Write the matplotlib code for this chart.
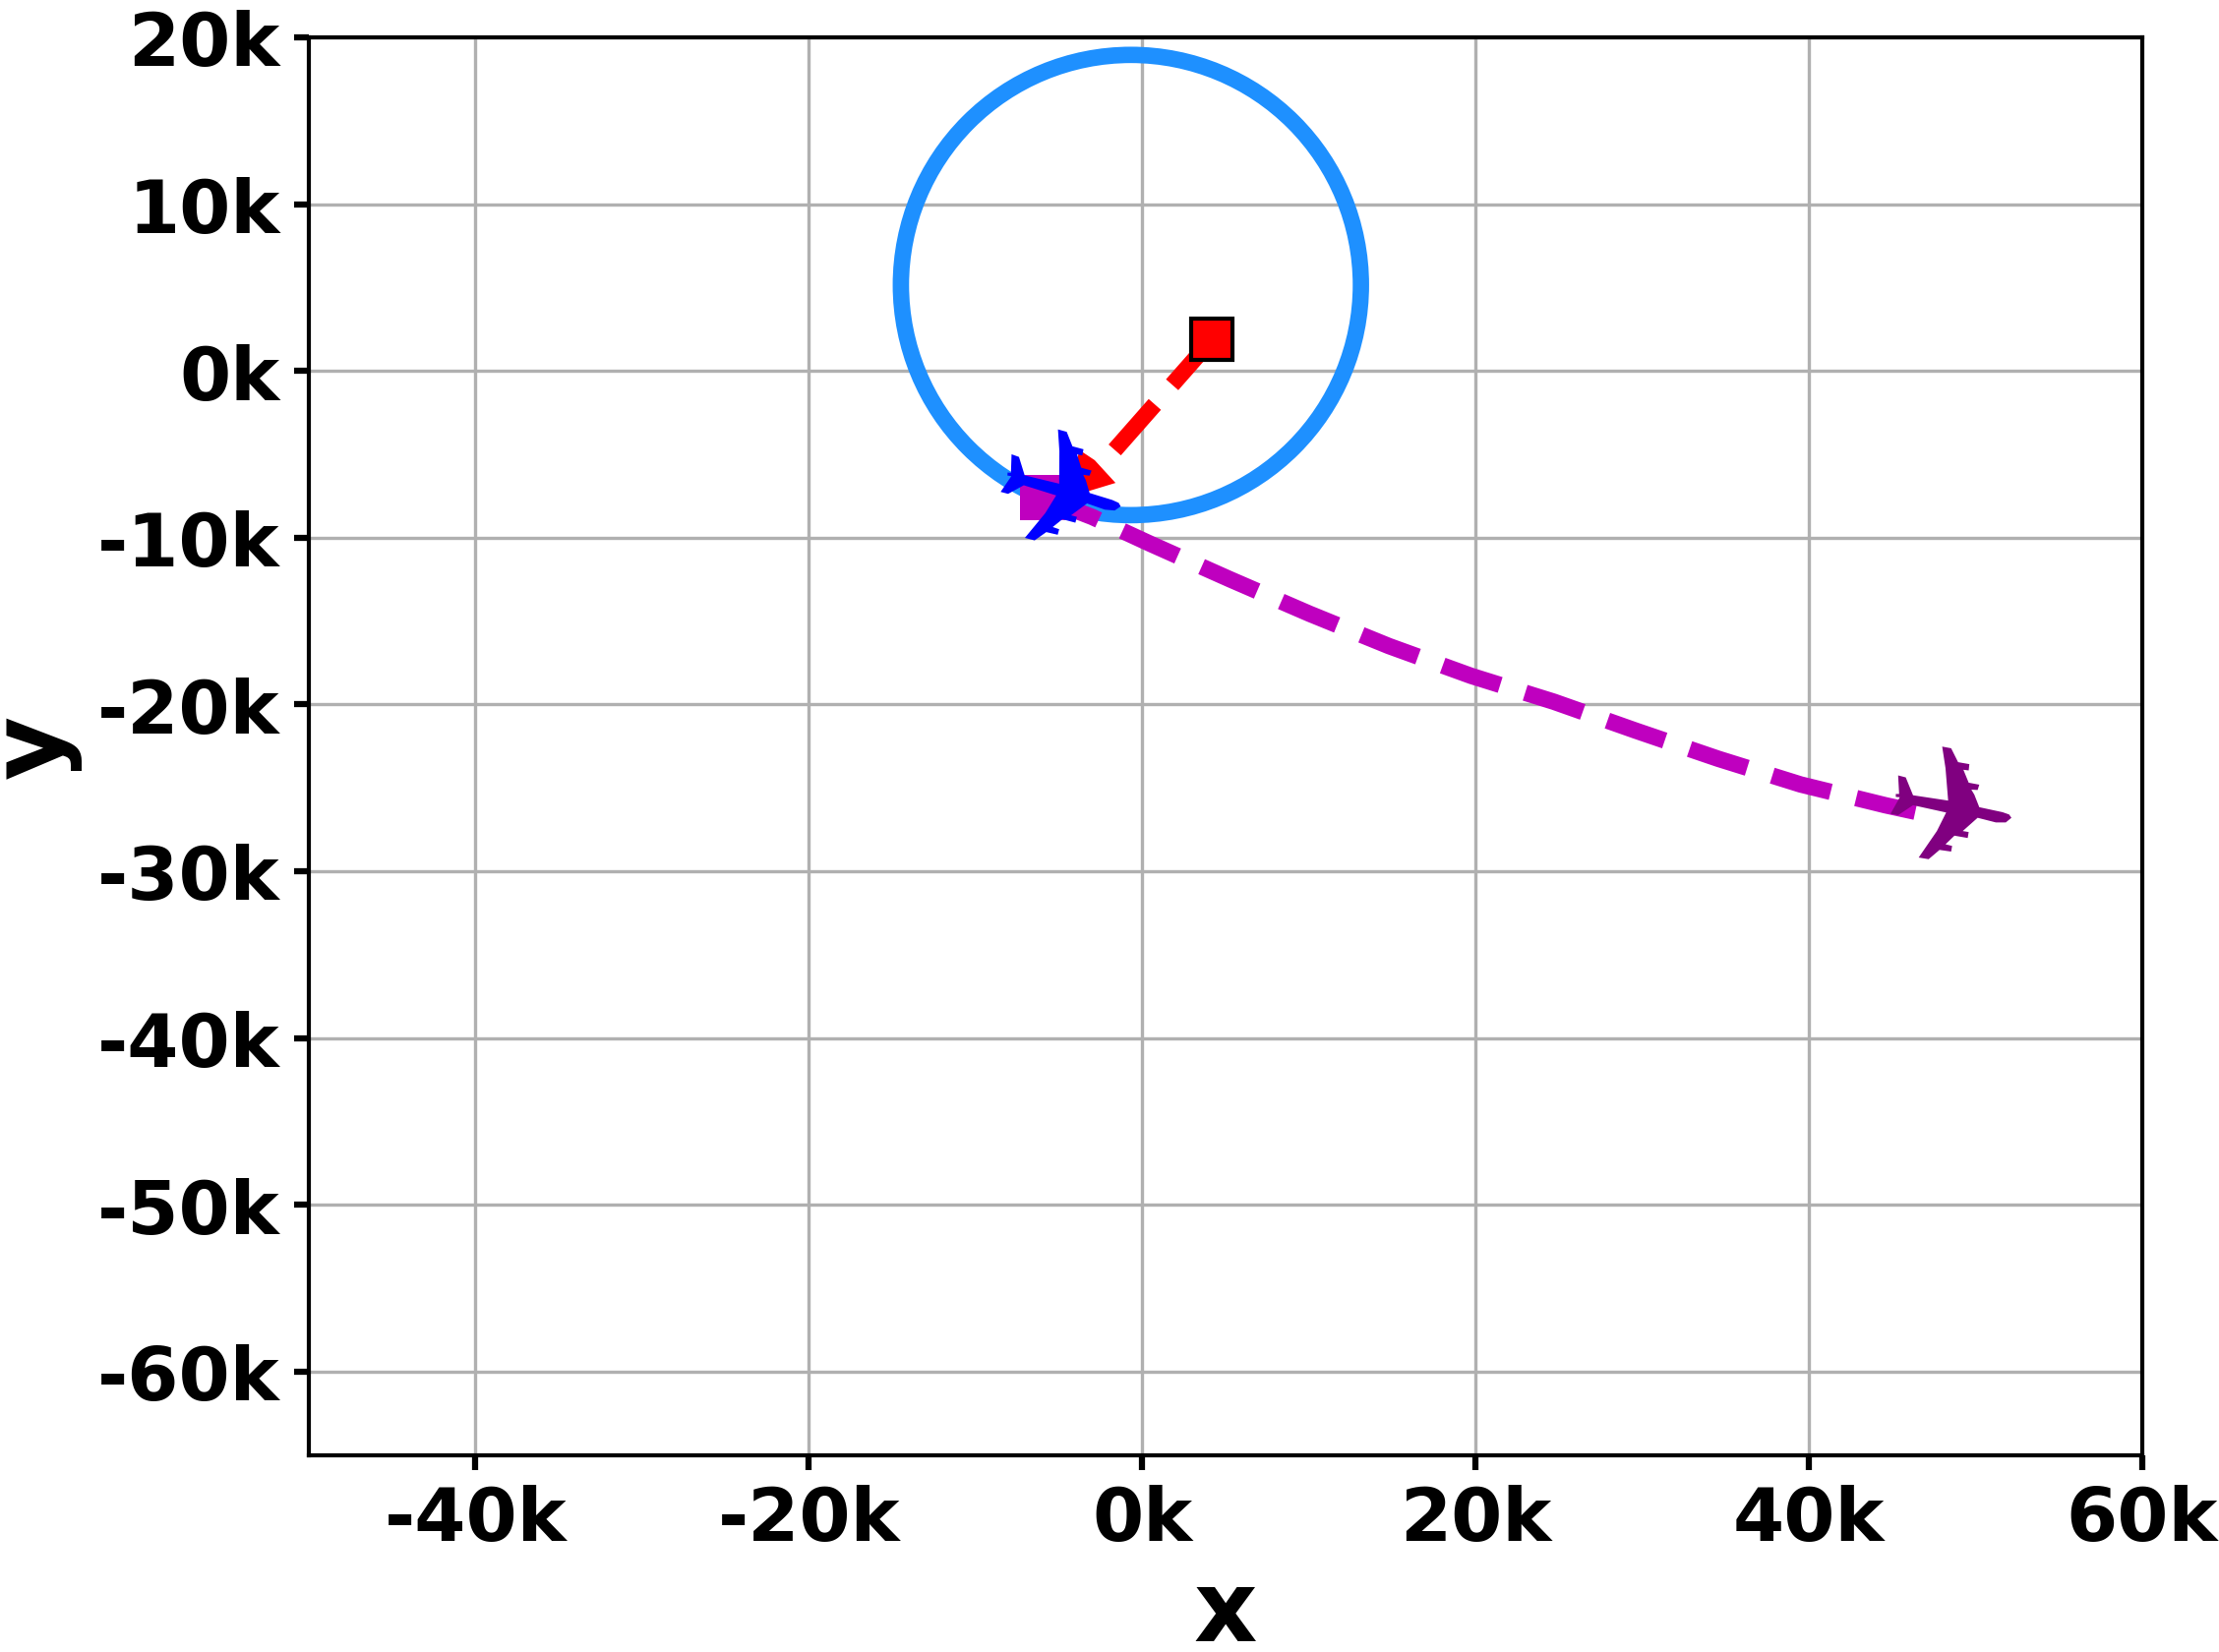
import matplotlib
matplotlib.use('Agg')
import numpy as np
import matplotlib.pyplot as plt
from matplotlib.patches import Circle
from matplotlib.path import Path
from matplotlib.markers import MarkerStyle
from matplotlib.transforms import Affine2D

x_ticks = [-40000, -20000, 0, 20000, 40000, 60000]
x_labels = ['-40k', '-20k', '0k', '20k', '40k', '60k']
y_ticks = [-60000, -50000, -40000, -30000, -20000, -10000, 0, 10000, 20000]
y_labels = ['-60k', '-50k', '-40k', '-30k', '-20k', '-10k', '0k', '10k', '20k']

# circle
circle_center = (-680, 5150)
circle_radius = 13800

# trajectories
red_x = [4200, -3200]
red_y = [1900, -6500]
magenta_x = [-6000, -3000, 490, 5270, 10030, 14800, 19740, 24700, 29600, 34560, 39500, 44600, 46400]
magenta_y = [-7600, -8760, -10370, -12500, -14560, -16500, -18290, -19840, -21570, -23260, -24800, -26050, -26440]

# planes
blue_plane = (-4850, -6900)
purple_plane = (48500, -25900)

# plane outline, nose pointing right
plane_outline = [
    (487, 300), (480, 290), (460, 283), (390, 268), (375, 230), (366, 215),
    (385, 216), (390, 200), (358, 194), (342, 155), (358, 157), (360, 138),
    (326, 132), (305, 90), (278, 85), (288, 150), (296, 248), (190, 232),
    (168, 178), (145, 172), (148, 228), (138, 228), (138, 237), (150, 238),
    (122, 288), (145, 292), (190, 262), (290, 284), (262, 340), (207, 420),
    (237, 425), (270, 397), (305, 402), (308, 385), (288, 380), (315, 354),
    (355, 361), (358, 343), (340, 340), (385, 300), (440, 314), (470, 314),
]
red_outline = [(545, 588), (480, 517), (432, 485), (400, 632)]


def make_path(points):
    pts = np.array(points, dtype=float)
    pts = pts - (pts.min(axis=0) + pts.max(axis=0)) / 2
    pts[:, 1] *= -1
    return Path(np.vstack([pts, pts[:1]]), closed=True)


fig, ax = plt.subplots(figsize=(7.52, 5.6033), dpi=300)
fig.subplots_adjust(left=314 / 2256, right=2178 / 2256, top=1 - 39 / 1681, bottom=1 - 1480.5 / 1681)

ax.grid(True, zorder=0)
ax.set_axisbelow(True)

ax.add_patch(Circle(circle_center, circle_radius, fill=False, ec='dodgerblue', lw=4, zorder=2))

ax.plot(red_x, red_y, '--', color='r', lw=4, zorder=3)
ax.plot(magenta_x, magenta_y, '--', color='#bf00bf', lw=4, zorder=3)

ax.plot(red_x[0], red_y[0], 's', color='r', mec='k', mew=1, ms=10, zorder=4)
ax.plot(magenta_x[0], magenta_y[0], 's', color='#bf00bf', mew=0, ms=11, zorder=4)

ax.plot(-3000, -6100, marker=make_path(red_outline), color='r', mew=0, ms=11.5, ls='none', zorder=4)

plane = make_path(plane_outline)
ax.plot(purple_plane[0], purple_plane[1], marker=plane, color='purple', mew=0, ms=29.5, ls='none', zorder=5)
ax.plot(blue_plane[0], blue_plane[1], marker=MarkerStyle(plane, transform=Affine2D().rotate_deg(-5)),
        color='b', mew=0, ms=29.5, ls='none', zorder=5)

ax.set_xlim(-50000, 60000)
ax.set_ylim(-65000, 20000)
ax.set_xticks(x_ticks)
ax.set_xticklabels(x_labels, fontsize=18, fontweight='bold')
ax.set_yticks(y_ticks)
ax.set_yticklabels(y_labels, fontsize=18, fontweight='bold')
ax.tick_params(width=1.5, length=3.5)
for spine in ax.spines.values():
    spine.set_linewidth(1)
ax.set_xlabel('x', fontsize=24, fontweight='bold', labelpad=2.4)
ax.set_ylabel('y', fontsize=24, fontweight='bold', labelpad=4)

fig.savefig('out.png', dpi=300)
